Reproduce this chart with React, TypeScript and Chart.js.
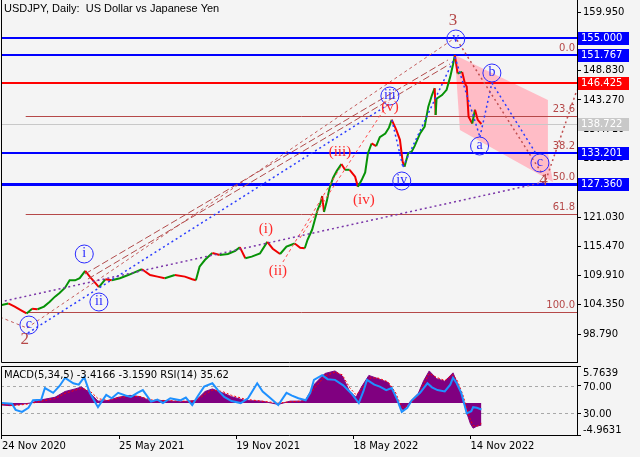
import React, { useEffect, useRef } from "react";
import { Chart, registerables } from "chart.js";
Chart.register(...registerables);

// ---------------- data ----------------
const BAR_INDEX = [0, 7, 14, 22, 27, 33, 39, 46, 52, 58, 63, 69, 74, 80, 85, 91, 96, 102, 106, 113, 120, 129, 138, 145, 153, 162, 170, 178, 189, 200, 208, 212, 216, 222, 230, 238, 247, 255, 260, 266, 273, 282, 290, 296, 304, 311, 320, 326, 331, 334, 339, 342, 345, 348, 350, 352, 355, 358, 362, 366, 371, 375, 380, 386, 389, 393, 397, 400, 404, 409, 413, 419, 423, 426, 431, 435, 438, 440, 444, 448, 451, 457, 462, 466, 470, 473, 474, 475, 481, 486, 490, 493, 495, 498, 503, 506, 508, 510, 514, 517, 520, 524];
const CLOSE = [104.3, 104.6, 104.0, 103.2, 102.7, 103.6, 103.5, 104.0, 104.9, 105.9, 106.6, 107.6, 109.0, 109.0, 109.4, 110.8, 109.7, 108.5, 107.7, 109.2, 109.0, 109.4, 110.0, 110.5, 111.1, 110.0, 109.7, 109.4, 110.0, 109.7, 109.2, 109.0, 111.6, 112.9, 114.2, 113.8, 114.0, 114.6, 115.3, 113.2, 113.5, 114.1, 116.3, 115.0, 114.0, 115.4, 116.0, 115.2, 115.1, 116.7, 118.6, 120.5, 122.4, 123.6, 125.0, 122.0, 124.0, 126.5, 128.5, 129.8, 131.1, 130.0, 130.0, 128.7, 126.8, 128.0, 129.5, 133.1, 135.0, 134.5, 136.2, 136.9, 138.0, 139.5, 137.6, 135.7, 131.5, 130.6, 133.1, 133.5, 134.5, 136.9, 138.2, 142.0, 144.2, 145.5, 140.4, 143.5, 144.2, 145.2, 147.7, 150.0, 151.8, 148.3, 148.6, 146.4, 145.8, 140.1, 138.8, 141.4, 139.5, 138.7];

const PRICE_TICKS = [159.95, 154.39, 148.83, 143.27, 137.71, 132.15, 126.59, 121.03, 115.47, 109.91, 104.35, 98.79];
const DATE_TICK_INDEX = [0, 128, 256, 384, 512];
const DATE_LABELS = ["24 Nov 2020", "25 May 2021", "19 Nov 2021", "18 May 2022", "14 Nov 2022"];

const LEVEL_PRICES = [155.0, 151.767, 146.425, 138.722, 133.201, 127.36];
const FIB_LABELS = ["0.0", "23.6", "38.2", "50.0", "61.8", "100.0"];
const FIB_PRICES = [151.767, 140.26, 133.14, 127.38, 121.62, 102.99];
const FIB_START_INDEX = 26;

const ZONE_INDEX = [495, 596.7, 596.7, 602.2, 500.5];
const ZONE_PRICE = [151.81, 143.26, 133.19, 127.68, 137.56];

const TREND_FROM_INDEX = [-2.2, 27.3, 90.7, 94.0, 28.4, 426.2, 438.3, 495.1, 522.4, 535.5, 497.3, 594.5, 307.1, 325.7, -2.2];
const TREND_FROM_PRICE = [102.03, 99.94, 110.2, 109.25, 98.99, 139.46, 130.53, 151.43, 136.23, 146.49, 154.66, 128.06, 112.48, 117.04, 104.88];
const TREND_TO_INDEX = [27.3, 491.8, 487.4, 489.6, 425.1, 438.3, 495.1, 522.4, 535.5, 584.7, 593.4, 628.4, 371.6, 423.0, 593.4];
const TREND_TO_PRICE = [99.94, 154.66, 150.86, 150.1, 142.69, 130.53, 151.43, 136.23, 146.49, 132.81, 128.44, 145.16, 130.91, 142.88, 127.68];
const TREND_KIND = ["brownShort", "brownShort", "brownLong", "brownLong", "blueDot", "blueDot", "blueDot", "blueDot", "blueDot", "blueDot", "brownDot", "brownDot", "redDash", "redDash", "purpleDot"];

const CIRCLE_TEXT = ["v", "iii", "iv", "i", "ii", "c", "a", "b", "c"];
const CIRCLE_INDEX = [496, 424, 437, 90, 106, 29.5, 522, 535.5, 588];
const CIRCLE_PRICE = [154.85, 144.02, 127.87, 114.0, 104.88, 100.5, 134.52, 148.39, 131.29];

const RED_TEXT = ["(i)", "(ii)", "(iii)", "(iv)", "(v)"];
const RED_INDEX = [288.5, 301.6, 369.4, 395.6, 424];
const RED_PRICE = [118.75, 110.77, 133.38, 124.26, 141.93];

const NUM_TEXT = ["2", "3", "4"];
const NUM_INDEX = [25, 493, 592];
const NUM_PRICE = [97.66, 158.27, 127.87];

const MACD_INDEX = [0, 9, 20, 31, 43, 58, 69, 80, 87, 96, 105, 116, 127, 140, 151, 163, 178, 195, 212, 222, 230, 241, 251, 266, 284, 302, 315, 326, 332, 342, 353, 364, 372, 380, 387, 393, 401, 411, 422, 430, 435, 439, 446, 455, 461, 467, 475, 484, 493, 498, 504, 508, 512, 515, 519, 524];
const MACD_HIST = [-0.3, -0.4, -0.2, 0.0, 0.5, 0.9, 1.8, 2.2, 2.5, 1.6, 0.3, 0.4, 0.9, 1.2, 1.0, 0.3, 0.4, 0.2, 0.4, 1.8, 2.2, 1.6, 1.0, 0.4, 0.3, -0.2, 0.3, 0.3, 0.5, 3.0, 4.6, 5.0, 4.2, 1.8, 0.9, 2.5, 4.3, 3.8, 3.2, 1.2, -0.6, -1.1, 0.2, 1.5, 3.5, 5.0, 3.8, 3.4, 4.7, 3.0, 0.5, -1.5, -3.2, -3.9, -3.6, -3.4166];
const MACD_SIGNAL = [-0.2, -0.35, -0.3, -0.1, 0.3, 0.7, 1.5, 2.0, 2.3, 1.9, 0.7, 0.4, 0.8, 1.1, 1.0, 0.5, 0.4, 0.3, 0.3, 1.4, 2.0, 1.8, 1.2, 0.6, 0.3, 0.0, 0.2, 0.3, 0.4, 2.4, 4.2, 4.8, 4.4, 2.4, 1.3, 2.1, 3.9, 3.9, 3.3, 1.7, 0.0, -0.8, -0.1, 1.1, 3.0, 4.6, 4.0, 3.5, 4.4, 3.4, 1.2, -0.8, -2.6, -3.5, -3.6, -3.159];
const MACD_MIN = -4.9631;
const MACD_MAX = 5.7639;

const RSI_INDEX = [0, 11, 15, 22, 29, 34, 43, 47, 56, 63, 69, 78, 84, 90, 96, 105, 114, 120, 127, 135, 141, 148, 154, 163, 170, 176, 184, 195, 201, 208, 214, 221, 230, 236, 243, 251, 261, 269, 279, 285, 292, 302, 311, 317, 324, 332, 337, 341, 350, 356, 364, 373, 382, 390, 395, 399, 407, 413, 420, 426, 432, 437, 443, 448, 457, 465, 470, 476, 484, 490, 493, 497, 502, 505, 508, 513, 515, 519, 524];
const RSI_VALUES = [45, 44, 35, 32, 38, 49, 50, 67, 60, 70, 82, 74, 72, 83, 60, 39, 57, 52, 60, 56, 54, 60, 64, 47, 50, 45, 52, 49, 53, 42, 55, 69, 74, 64, 54, 48, 45, 52, 74, 62, 54, 42, 60, 56, 52, 49, 60, 79, 86, 80, 79, 71, 59, 45, 62, 79, 72, 69, 64, 67, 50, 32, 38, 49, 60, 74, 68, 64, 62, 72, 82, 74, 60, 45, 30, 33, 39, 38, 35.62];
const RSI_LEVELS = [70, 30];
const RSI_MIN = -1.8;
const RSI_MAX = 99.3;

const TITLE = "USDJPY, Daily:  US Dollar vs Japanese Yen";
const INDICATOR_TITLE = "MACD(5,34,5) -3.4166 -3.1590 RSI(14) 35.62";

// ---------------- view settings ----------------
const X_MIN = -1;
const X_MAX = 628.5;
const Y_MIN = 93.48;
const Y_MAX = 162.26;

const BG = "#f4f4f4";
const UP = "#079207";
const DOWN = "#f00000";
const NUM_FONT = "10px 'DejaVu Sans'";
const LEVEL_STYLE = [
  { color: "#0000ff", width: 2, box: "#0000ff" },
  { color: "#0000ff", width: 2, box: "#0000ff" },
  { color: "#ff0000", width: 2, box: "#ff0000" },
  { color: "#c8c8c8", width: 1, box: "#c8c8c8" },
  { color: "#0000ff", width: 2, box: "#0000ff" },
  { color: "#0000ff", width: 3, box: "#0000ff" },
];
const TREND_STYLE: Record<string, { color: string; dash: number[]; width: number }> = {
  brownShort: { color: "#c25a5a", dash: [3, 3], width: 1 },
  brownLong: { color: "#b04a4a", dash: [7, 3], width: 1 },
  blueDot: { color: "#2a3cff", dash: [2, 3], width: 1.5 },
  brownDot: { color: "#c05050", dash: [2, 3], width: 1.5 },
  redDash: { color: "#ff4a4a", dash: [3, 3], width: 1 },
  purpleDot: { color: "#7a35a8", dash: [2, 3], width: 1.5 },
};
const ZONE_COLOR = "#ffbcc6";
const FIB_COLOR = "#b54848";
const WAVE_BLUE = "#2a2aff";
const WAVE_RED = "#ff2a2a";
const WAVE_BROWN = "#b54848";

function clipArea(ctx: CanvasRenderingContext2D, a: any) {
  ctx.beginPath();
  ctx.rect(a.left, a.top, a.right - a.left, a.bottom - a.top);
  ctx.clip();
}

const mainOverlay = {
  id: "mainOverlay",
  beforeDatasetsDraw(chart: any) {
    const { ctx, chartArea: a } = chart;
    const x = chart.scales.x;
    const y = chart.scales.y;
    ctx.save();
    clipArea(ctx, a);
    // pink correction zone
    ctx.fillStyle = ZONE_COLOR;
    ctx.beginPath();
    ZONE_INDEX.forEach((v, i) => {
      const px = x.getPixelForValue(v);
      const py = y.getPixelForValue(ZONE_PRICE[i]);
      if (i === 0) ctx.moveTo(px, py);
      else ctx.lineTo(px, py);
    });
    ctx.closePath();
    ctx.fill();
    // fibonacci levels
    ctx.strokeStyle = FIB_COLOR;
    ctx.lineWidth = 1;
    ctx.font = NUM_FONT;
    ctx.fillStyle = FIB_COLOR;
    ctx.textAlign = "right";
    ctx.textBaseline = "bottom";
    const fx = x.getPixelForValue(FIB_START_INDEX);
    FIB_PRICES.forEach((p, i) => {
      const py = Math.round(y.getPixelForValue(p)) + 0.5;
      ctx.beginPath();
      ctx.moveTo(fx, py);
      ctx.lineTo(a.right, py);
      ctx.stroke();
      ctx.fillText(FIB_LABELS[i], a.right - 2, py - 2);
    });
    // horizontal levels
    LEVEL_PRICES.forEach((p, i) => {
      const st = LEVEL_STYLE[i];
      let py = Math.round(y.getPixelForValue(p));
      if (st.width % 2 === 1) py += 0.5;
      ctx.strokeStyle = st.color;
      ctx.lineWidth = st.width;
      ctx.beginPath();
      ctx.moveTo(a.left, py);
      ctx.lineTo(a.right, py);
      ctx.stroke();
    });
    ctx.restore();
  },
  afterDatasetsDraw(chart: any) {
    const { ctx, chartArea: a } = chart;
    const x = chart.scales.x;
    const y = chart.scales.y;
    ctx.save();
    clipArea(ctx, a);
    TREND_KIND.forEach((k, i) => {
      const st = TREND_STYLE[k];
      ctx.strokeStyle = st.color;
      ctx.lineWidth = st.width;
      ctx.setLineDash(st.dash);
      ctx.beginPath();
      ctx.moveTo(x.getPixelForValue(TREND_FROM_INDEX[i]), y.getPixelForValue(TREND_FROM_PRICE[i]));
      ctx.lineTo(x.getPixelForValue(TREND_TO_INDEX[i]), y.getPixelForValue(TREND_TO_PRICE[i]));
      ctx.stroke();
    });
    ctx.setLineDash([]);
    // circled wave labels
    ctx.textAlign = "center";
    ctx.textBaseline = "middle";
    CIRCLE_TEXT.forEach((t, i) => {
      const px = x.getPixelForValue(CIRCLE_INDEX[i]);
      const py = y.getPixelForValue(CIRCLE_PRICE[i]);
      ctx.strokeStyle = WAVE_BLUE;
      ctx.lineWidth = 1;
      ctx.beginPath();
      ctx.arc(px, py, 9, 0, Math.PI * 2);
      ctx.stroke();
      ctx.fillStyle = WAVE_BLUE;
      ctx.font = "14px 'Liberation Serif'";
      ctx.fillText(t, px, py - 1);
    });
    RED_TEXT.forEach((t, i) => {
      ctx.fillStyle = WAVE_RED;
      ctx.font = "15px 'Liberation Serif'";
      ctx.fillText(t, x.getPixelForValue(RED_INDEX[i]), y.getPixelForValue(RED_PRICE[i]));
    });
    NUM_TEXT.forEach((t, i) => {
      ctx.fillStyle = WAVE_BROWN;
      ctx.font = "17px 'Liberation Serif'";
      ctx.fillText(t, x.getPixelForValue(NUM_INDEX[i]), y.getPixelForValue(NUM_PRICE[i]));
    });
    ctx.restore();
  },
  afterDraw(chart: any) {
    const { ctx, chartArea: a } = chart;
    const y = chart.scales.y;
    ctx.save();
    // panel border
    ctx.strokeStyle = "#000";
    ctx.lineWidth = 1;
    ctx.beginPath();
    ctx.moveTo(a.left + 0.5, a.top);
    ctx.lineTo(a.left + 0.5, a.bottom + 0.5);
    ctx.lineTo(a.right, a.bottom + 0.5);
    ctx.stroke();
    // level price boxes
    ctx.font = NUM_FONT;
    ctx.textAlign = "left";
    ctx.textBaseline = "middle";
    LEVEL_PRICES.forEach((p, i) => {
      const py = Math.round(y.getPixelForValue(p));
      ctx.fillStyle = LEVEL_STYLE[i].box;
      ctx.fillRect(a.right + 1, py - 6, 51, 13);
      ctx.fillStyle = "#ffffff";
      ctx.fillText(p.toFixed(3), a.right + 4, py + 0.5);
    });
    // title
    ctx.fillStyle = "#000";
    ctx.font = "11px 'Liberation Sans'";
    ctx.textBaseline = "top";
    ctx.fillText(TITLE, a.left + 3, 3);
    ctx.restore();
  },
};

const subOverlay = {
  id: "subOverlay",
  beforeDatasetsDraw(chart: any) {
    const { ctx, chartArea: a } = chart;
    const r = chart.scales.yR;
    ctx.save();
    ctx.strokeStyle = "#a8a8a8";
    ctx.lineWidth = 1;
    ctx.setLineDash([3, 3]);
    RSI_LEVELS.forEach((v) => {
      const py = Math.round(r.getPixelForValue(v)) + 0.5;
      ctx.beginPath();
      ctx.moveTo(a.left, py);
      ctx.lineTo(a.right, py);
      ctx.stroke();
    });
    ctx.restore();
  },
  afterDraw(chart: any) {
    const { ctx, chartArea: a } = chart;
    const r = chart.scales.yR;
    ctx.save();
    ctx.strokeStyle = "#000";
    ctx.lineWidth = 1;
    ctx.beginPath();
    ctx.moveTo(a.right, a.top + 0.5);
    ctx.lineTo(a.left + 0.5, a.top + 0.5);
    ctx.lineTo(a.left + 0.5, a.bottom);
    ctx.stroke();
    ctx.fillStyle = "#000";
    ctx.font = NUM_FONT;
    ctx.textBaseline = "middle";
    ctx.textAlign = "left";
    ctx.fillText(INDICATOR_TITLE, a.left + 3, a.top + 9);
    const labels = [MACD_MAX.toFixed(4), RSI_LEVELS[0].toFixed(2), RSI_LEVELS[1].toFixed(2), MACD_MIN.toFixed(4)];
    const vals = [RSI_MAX, RSI_LEVELS[0], RSI_LEVELS[1], RSI_MIN];
    const shift = [7, 1, 1, -5];
    labels.forEach((t, i) => {
      ctx.fillText(t, a.right + 6, r.getPixelForValue(vals[i]) + shift[i]);
    });
    ctx.restore();
  },
};

export default function App() {
  const mainRef = useRef<HTMLCanvasElement>(null);
  const subRef = useRef<HTMLCanvasElement>(null);

  useEffect(() => {
    const main = new Chart(mainRef.current!, {
      type: "line",
      data: {
        datasets: [
          {
            data: BAR_INDEX.map((v, i) => ({ x: v, y: CLOSE[i] })),
            borderWidth: 2,
            pointRadius: 0,
            tension: 0,
            borderColor: UP,
            segment: {
              borderColor: (c: any) => (c.p1.parsed.y >= c.p0.parsed.y ? UP : DOWN),
            },
          },
        ],
      },
      options: {
        animation: false,
        responsive: false,
        maintainAspectRatio: false,
        layout: { padding: { left: 1, top: 0, bottom: 1, right: 0 } },
        plugins: { legend: { display: false }, tooltip: { enabled: false } },
        scales: {
          x: { type: "linear", min: X_MIN, max: X_MAX, display: false },
          y: {
            type: "linear",
            position: "right",
            min: Y_MIN,
            max: Y_MAX,
            afterBuildTicks: (s: any) => {
              s.ticks = PRICE_TICKS.map((v) => ({ value: v }));
            },
            afterFit: (s: any) => {
              s.width = 63;
              s.paddingTop = 0;
              s.paddingBottom = 0;
            },
            ticks: {
              autoSkip: false,
              padding: 2,
              color: "#000",
              font: { family: "DejaVu Sans", size: 10 },
              callback: (v: any) => Number(v).toFixed(3),
            },
            grid: { drawOnChartArea: false, drawTicks: true, tickLength: 4, color: "#000" },
            border: { display: true, color: "#000" },
          },
        },
      },
      plugins: [mainOverlay],
    } as any);

    const sub = new Chart(subRef.current!, {
      type: "line",
      data: {
        datasets: [
          {
            data: RSI_INDEX.map((v, i) => ({ x: v, y: RSI_VALUES[i] })),
            yAxisID: "yR",
            borderColor: "#1e90ff",
            borderWidth: 2,
            pointRadius: 0,
            order: 0,
          },
          {
            data: MACD_INDEX.map((v, i) => ({ x: v, y: MACD_SIGNAL[i] })),
            yAxisID: "yM",
            borderColor: "#ff0000",
            borderDash: [2, 2],
            borderWidth: 1,
            pointRadius: 0,
            order: 1,
          },
          {
            data: MACD_INDEX.map((v, i) => ({ x: v, y: MACD_HIST[i] })),
            yAxisID: "yM",
            borderColor: "#800080",
            backgroundColor: "#800080",
            borderWidth: 1,
            fill: "origin",
            pointRadius: 0,
            order: 2,
          },
        ],
      },
      options: {
        animation: false,
        responsive: false,
        maintainAspectRatio: false,
        layout: { padding: { left: 1, top: 3, bottom: 0, right: 0 } },
        plugins: { legend: { display: false }, tooltip: { enabled: false } },
        scales: {
          x: {
            type: "linear",
            min: X_MIN,
            max: X_MAX,
            position: "bottom",
            afterBuildTicks: (s: any) => {
              s.ticks = DATE_TICK_INDEX.map((v) => ({ value: v }));
            },
            afterFit: (s: any) => {
              s.height = 22;
              s.paddingLeft = 0;
              s.paddingRight = 0;
            },
            ticks: {
              autoSkip: false,
              maxRotation: 0,
              minRotation: 0,
              align: "start",
              padding: 1,
              color: "#000",
              font: { family: "DejaVu Sans", size: 10 },
              callback: (v: any) => DATE_LABELS[DATE_TICK_INDEX.indexOf(Number(v))],
            },
            grid: { drawOnChartArea: false, drawTicks: true, tickLength: 4, color: "#000" },
            border: { display: true, color: "#000" },
          },
          yM: { type: "linear", position: "right", min: MACD_MIN, max: MACD_MAX, display: false },
          yR: {
            type: "linear",
            position: "right",
            min: RSI_MIN,
            max: RSI_MAX,
            afterBuildTicks: (s: any) => {
              s.ticks = [RSI_MAX, RSI_LEVELS[0], RSI_LEVELS[1], RSI_MIN].map((v) => ({ value: v }));
            },
            afterFit: (s: any) => {
              s.width = 63;
              s.paddingTop = 0;
              s.paddingBottom = 0;
            },
            ticks: { display: false },
            grid: { drawOnChartArea: false, drawTicks: true, tickLength: 4, color: "#000" },
            border: { display: true, color: "#000" },
          },
        },
      },
      plugins: [subOverlay],
    } as any);

    return () => {
      main.destroy();
      sub.destroy();
    };
  }, []);

  return (
    <div style={{ position: "fixed", left: 0, top: 0, width: 640, height: 457, background: BG, overflow: "hidden" }}>
      <canvas ref={mainRef} width={640} height={363} style={{ position: "absolute", left: 0, top: 0, width: 640, height: 363 }} />
      <canvas ref={subRef} width={640} height={94} style={{ position: "absolute", left: 0, top: 363, width: 640, height: 94 }} />
    </div>
  );
}
